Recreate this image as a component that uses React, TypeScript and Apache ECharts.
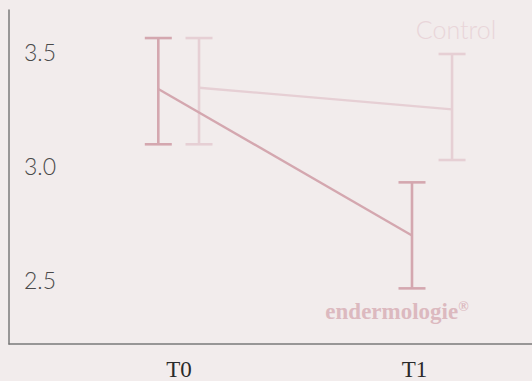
import React, { useEffect, useRef } from "react";
import * as echarts from "echarts";

const categories = ["T0", "T1"];
const yTicks = [2.5, 3.0, 3.5];
const treatedMean = [3.338, 2.695];
const treatedLower = [3.095, 2.463];
const treatedUpper = [3.561, 2.928];
const controlMean = [3.343, 3.248];
const controlLower = [3.095, 3.026];
const controlUpper = [3.561, 3.491];
const controlLabel = "Control";
const brandLabel = "endermologie";

const BG = "#f2ecec";
const TREATED = "#d4a7af";
const CONTROL = "#e6cfd4";
const AXIS = "#7a7a7a";
const CAP = 13.5;

function errorBar(color: string) {
  return (params: any, api: any) => {
    const x = api.value(0);
    const lo = api.coord([x, api.value(1)]);
    const hi = api.coord([x, api.value(2)]);
    const style = { stroke: color, lineWidth: 2.6 };
    return {
      type: "group",
      children: [
        { type: "line", shape: { x1: lo[0], y1: lo[1], x2: hi[0], y2: hi[1] }, style },
        { type: "line", shape: { x1: hi[0] - CAP, y1: hi[1], x2: hi[0] + CAP, y2: hi[1] }, style },
        { type: "line", shape: { x1: lo[0] - CAP, y1: lo[1], x2: lo[0] + CAP, y2: lo[1] }, style },
      ],
    };
  };
}

export default function App() {
  const ref = useRef<HTMLDivElement>(null);
  useEffect(() => {
    document.body.style.margin = "0";
    document.body.style.overflow = "hidden";
    const chart = echarts.init(ref.current!, undefined, { renderer: "svg" });
    chart.setOption({
      animation: false,
      backgroundColor: BG,
      grid: { left: 9, right: 0, top: 10, bottom: 35 },
      xAxis: [
        {
          type: "value",
          min: -0.722,
          max: 1.499,
          axisLine: { show: true, onZero: false, lineStyle: { color: AXIS, width: 1.5 } },
          axisTick: { show: false },
          splitLine: { show: false },
          axisLabel: {
            customValues: [0, 1],
            formatter: (v: number) => categories[Math.round(v)],
            fontFamily: "Liberation Serif",
            fontWeight: "normal",
            fontSize: 23,
            color: "#2a2a2a",
            margin: 14,
          },
        },
        { type: "value", min: -0.5885, max: 1.473, show: false },
        { type: "value", min: -0.751, max: 1.316, show: false },
      ],
      yAxis: {
        type: "value",
        min: 2.219,
        max: 3.684,
        axisLine: { show: true, onZero: false, lineStyle: { color: AXIS, width: 1.5 } },
        axisTick: { show: false },
        splitLine: { show: false },
        axisLabel: {
          inside: true,
          margin: 15,
          customValues: yTicks,
          formatter: (v: number) => v.toFixed(1),
          fontFamily: "Lato",
          fontWeight: 300,
          fontSize: 23,
          color: "#4a4a4a",
        },
      },
      series: [
        {
          type: "line",
          xAxisIndex: 2,
          data: controlMean.map((v, i) => [i, v]),
          symbol: "none",
          lineStyle: { color: CONTROL, width: 2.3 },
          z: 2,
        },
        {
          type: "custom",
          xAxisIndex: 2,
          data: controlLower.map((v, i) => [i, v, controlUpper[i]]),
          encode: { x: 0, y: [1, 2] },
          renderItem: errorBar(CONTROL),
          z: 3,
        },
        {
          type: "line",
          xAxisIndex: 1,
          data: treatedMean.map((v, i) => [i, v]),
          symbol: "none",
          lineStyle: { color: TREATED, width: 2.3 },
          z: 4,
        },
        {
          type: "custom",
          xAxisIndex: 1,
          data: treatedLower.map((v, i) => [i, v, treatedUpper[i]]),
          encode: { x: 0, y: [1, 2] },
          renderItem: errorBar(TREATED),
          z: 5,
        },
      ],
      graphic: [
        {
          type: "text",
          x: 456,
          y: 29,
          style: {
            text: controlLabel,
            align: "center",
            verticalAlign: "middle",
            fill: "#e9d5d9",
            fontFamily: "Lato",
            fontWeight: 300,
            fontSize: 25,
          },
        },
        {
          type: "text",
          x: 397,
          y: 311,
          style: {
            text: brandLabel + "{r|®}",
            align: "center",
            verticalAlign: "middle",
            fill: "#dcb9bf",
            fontFamily: "Liberation Serif",
            fontWeight: "bold",
            fontSize: 23,
            rich: {
              r: { fontSize: 14, verticalAlign: "top", fill: "#dcb9bf", fontFamily: "Liberation Serif", fontWeight: "bold" },
            },
          },
        },
      ],
    });
    return () => chart.dispose();
  }, []);
  return <div ref={ref} style={{ width: 532, height: 381 }} />;
}
